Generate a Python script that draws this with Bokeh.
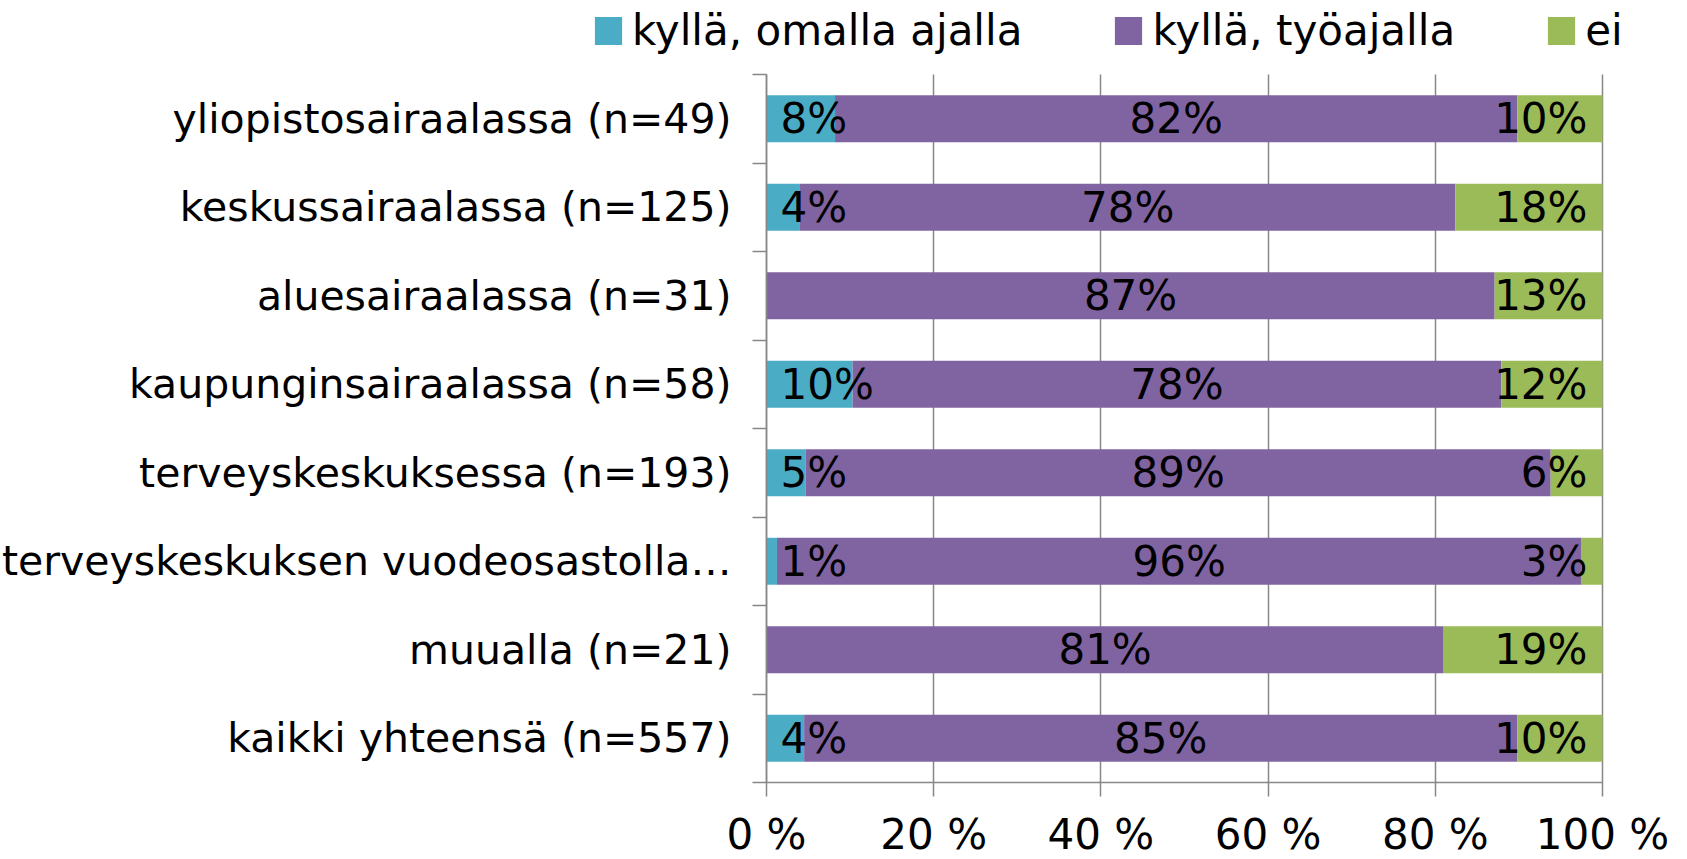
from bokeh.plotting import figure
from bokeh.models import Range1d, FixedTicker, ColumnDataSource, Legend, LegendItem
from bokeh.embed import file_html
from bokeh.resources import INLINE
from bokeh.core.properties import value

# ---- data ----
categories = [
    "yliopistosairaalassa (n=49)",
    "keskussairaalassa (n=125)",
    "aluesairaalassa (n=31)",
    "kaupunginsairaalassa (n=58)",
    "terveyskeskuksessa (n=193)",
    "terveyskeskuksen vuodeosastolla…",
    "muualla (n=21)",
    "kaikki yhteensä (n=557)",
]
series = ["kyllä, omalla ajalla", "kyllä, työajalla", "ei"]
omalla = [8.2, 4.0, 0.0, 10.3, 4.7, 1.25, 0.0, 4.5]
tyoajalla = [81.6, 78.4, 87.1, 77.6, 89.1, 96.25, 81.0, 85.3]
ei = [10.2, 17.6, 12.9, 12.1, 6.2, 2.5, 19.0, 10.2]
omalla_labels = ["8%", "4%", "", "10%", "5%", "1%", "", "4%"]
tyoajalla_labels = ["82%", "78%", "87%", "78%", "89%", "96%", "81%", "85%"]
ei_labels = ["10%", "18%", "13%", "12%", "6%", "3%", "19%", "10%"]
x_ticks = [0, 20, 40, 60, 80, 100]
x_tick_labels = {0: "0 %", 20: "20 %", 40: "40 %", 60: "60 %", 80: "80 %", 100: "100 %"}

# ---- style / layout ----
colors = ["#4BACC6", "#8064A2", "#9BBB59"]
GRAY = "#878787"
FONT = "DejaVu Sans"
FS = "42px"
W, H = 1687, 859
PX_X0, PX_X1 = 766, 1602      # plot area left/right (canvas px)
PX_Y0, PX_Y1 = 74, 782        # plot area top/bottom (canvas px)

n = len(categories)
ux = (PX_X1 - PX_X0) / 100.0
uy = (PX_Y1 - PX_Y0) / n
x_range = Range1d(-PX_X0 / ux, 100 + (W - PX_X1) / ux)
y_range = Range1d(-(H - PX_Y1) / uy, n + PX_Y0 / uy)

ypos = [n - i - 0.5 for i in range(n)]
mid_tyo = [o + t / 2 for o, t in zip(omalla, tyoajalla)]
totals = [o + t + e for o, t, e in zip(omalla, tyoajalla, ei)]

src = ColumnDataSource(dict(
    y=ypos, omalla=omalla, tyoajalla=tyoajalla, ei=ei,
    lab_o=omalla_labels, lab_t=tyoajalla_labels, lab_e=ei_labels,
    mid_t=mid_tyo, tot=totals, zero=[0] * n,
))

p = figure(width=W, height=H, output_backend="svg", toolbar_location=None,
           x_range=x_range, y_range=y_range, min_border=0)
p.outline_line_color = None
p.background_fill_color = "white"
p.border_fill_color = "white"
p.xgrid.visible = False
p.ygrid.visible = False

rs = p.hbar_stack(["omalla", "tyoajalla", "ei"], y="y", height=0.53,
                  color=colors, source=src, line_width=0)

# bar labels
common = dict(source=src, text_font=value(FONT), text_font_size=FS,
              text_color="black", text_baseline="middle")
p.text(x="zero", y="y", text="lab_o", text_align="left", x_offset=14, **common)
p.text(x="mid_t", y="y", text="lab_t", text_align="center", **common)
p.text(x="tot", y="y", text="lab_e", text_align="right", x_offset=-15, **common)

# x axis: fixed at 0, ticks reaching up act as vertical gridlines (behind bars)
xa = p.xaxis[0]
xa.fixed_location = 0
xa.bounds = (0, 100)
xa.level = "underlay"
xa.ticker = FixedTicker(ticks=x_ticks)
xa.major_label_overrides = x_tick_labels
xa.major_tick_out = 14
xa.major_tick_in = int(round(PX_Y1 - PX_Y0))
xa.minor_tick_out = 0
xa.minor_tick_in = 0
xa.axis_line_color = GRAY
xa.axis_line_width = 1.5
xa.major_tick_line_color = GRAY
xa.major_tick_line_width = 1.5
xa.major_label_standoff = 13
xa.major_label_text_font = FONT
xa.major_label_text_font_size = FS
xa.major_label_text_color = "black"

# y axis: fixed at 0, tick marks between categories
ya = p.yaxis[0]
ya.fixed_location = 0
ya.bounds = (0, n)
ya.ticker = FixedTicker(ticks=ypos, minor_ticks=list(range(n + 1)))
ya.major_label_overrides = {y: c for y, c in zip(ypos, categories)}
ya.major_tick_out = 0
ya.major_tick_in = 0
ya.minor_tick_out = 14
ya.minor_tick_in = 0
ya.minor_tick_line_color = GRAY
ya.minor_tick_line_width = 1.5
ya.axis_line_color = GRAY
ya.axis_line_width = 1.5
ya.major_label_standoff = 21
ya.major_label_text_font = FONT
ya.major_label_text_font_size = "41px"
ya.major_label_text_color = "black"

legend = Legend(items=[LegendItem(label=s, renderers=[r]) for s, r in zip(series, rs)],
                orientation="horizontal", location=(591, 804),
                glyph_width=34, glyph_height=35, label_standoff=7, spacing=89,
                padding=0, margin=0, border_line_color=None,
                background_fill_alpha=0,
                label_text_font=FONT, label_text_font_size=FS,
                label_text_color="black")
p.add_layout(legend, "center")

open("out.html", "w").write(file_html(p, INLINE))
